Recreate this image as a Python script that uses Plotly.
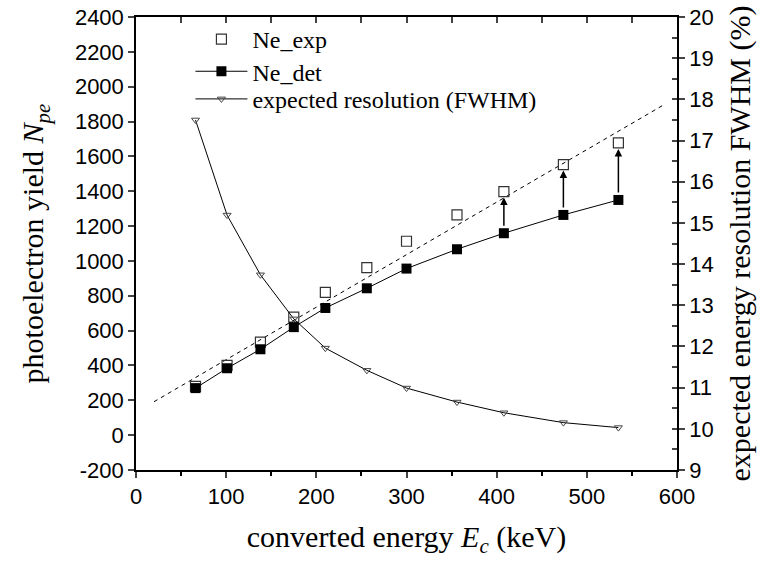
import plotly.graph_objects as go

energy = [66, 101, 138, 175, 210, 256, 300, 356, 408, 474, 535]
ne_exp = [280, 401, 534, 677, 819, 962, 1113, 1264, 1398, 1553, 1677]
ne_det = [270, 384, 493, 620, 730, 843, 956, 1067, 1159, 1264, 1350]
resolution = [17.5, 15.19, 13.74, 12.67, 11.96, 11.42, 10.99, 10.65, 10.39, 10.15, 10.03]
fit_x = [20, 585]
fit_y = [192, 1895]
arrow_idx = [8, 9, 10]
y_tickvals = list(range(-200, 2401, 200))
y_ticktext = [str(v) if v >= 0 else "-" + str(-v) for v in y_tickvals]

SERIF = "Liberation Serif, Times New Roman, serif"
SANS = "Liberation Sans, Arial, sans-serif"

fig = go.Figure()

fig.add_trace(go.Scatter(x=fit_x, y=fit_y, mode="lines", showlegend=False,
                         line=dict(color="black", width=1, dash="4px,4px")))
fig.add_trace(go.Scatter(x=energy, y=ne_exp, mode="markers", name="Ne_exp",
                         legend="legend",
                         marker=dict(symbol="square-open", size=10, color="#333",
                                     line=dict(width=1.2))))
fig.add_trace(go.Scatter(x=energy, y=ne_det, mode="lines+markers", name="Ne_det",
                         legend="legend2",
                         line=dict(color="black", width=1),
                         marker=dict(symbol="square", size=10, color="black")))
fig.add_trace(go.Scatter(x=energy, y=resolution, mode="lines+markers",
                         name="expected resolution (FWHM)", yaxis="y2",
                         legend="legend3",
                         line=dict(color="black", width=1),
                         marker=dict(symbol="triangle-down-open", size=7, color="#444",
                                     line=dict(width=1))))

for i in arrow_idx:
    fig.add_annotation(x=energy[i], y=ne_exp[i], ax=energy[i], ay=ne_det[i],
                       xref="x", yref="y", axref="x", ayref="y",
                       showarrow=True, arrowhead=2, arrowsize=1, arrowwidth=1.5,
                       arrowcolor="black", standoff=6, startstandoff=6, text="")

legend_common = dict(x=0.1006, xanchor="left", yanchor="top",
                     bgcolor="rgba(0,0,0,0)", borderwidth=0,
                     font=dict(family=SERIF, size=24), itemwidth=52)

fig.update_layout(
    width=761, height=568,
    margin=dict(l=136, r=84, t=17, b=98, autoexpand=False),
    paper_bgcolor="white", plot_bgcolor="white",
    font=dict(family=SANS, size=22, color="black"),
    showlegend=True,
    legend=dict(y=1.0, **legend_common),
    legend2=dict(y=0.929, **legend_common),
    legend3=dict(y=0.868, **legend_common),
    xaxis=dict(range=[0, 600], dtick=100, ticks="outside", ticklen=6, tickwidth=1.5,
               showline=True, linecolor="black", linewidth=1.5, showgrid=False,
               zeroline=False, automargin=False,
               minor=dict(dtick=50, ticks="outside", ticklen=4, tickwidth=1.5,
                          tickcolor="black", showgrid=False),
               title=dict(text="converted energy <i>E<sub>c</sub></i> (keV)",
                          font=dict(family=SERIF, size=30), standoff=18)),
    xaxis2=dict(range=[0, 600], overlaying="x", side="top", dtick=50,
                ticks="inside", ticklen=6, tickwidth=1.5, showticklabels=False,
                showline=True, linecolor="black", linewidth=1.5, showgrid=False,
                zeroline=False, automargin=False),
    yaxis=dict(range=[-200, 2400], tickvals=y_tickvals, ticktext=y_ticktext,
               ticks="outside", ticklen=6, tickwidth=1.5,
               showline=True, linecolor="black", linewidth=1.5, showgrid=False,
               zeroline=False, automargin=False,
               title=dict(text="photoelectron yield <i>N<sub>pe</sub></i>",
                          font=dict(family=SERIF, size=30), standoff=22)),
    yaxis2=dict(range=[9, 20], dtick=1, overlaying="y", side="right",
                ticks="outside", ticklen=6, tickwidth=1.5,
                showline=True, linecolor="black", linewidth=1.5, showgrid=False,
                zeroline=False, automargin=False,
                title=dict(text="expected energy resolution FWHM (%)",
                           font=dict(family=SERIF, size=30), standoff=16)),
    yaxis3=dict(range=[9, 20], dtick=0.5, overlaying="y", side="right",
                ticks="inside", ticklen=5, tickwidth=1.5, showticklabels=False,
                showline=False, showgrid=False, zeroline=False, automargin=False),
)

# dummy traces to activate the extra tick axes
fig.add_trace(go.Scatter(x=[None], y=[None], xaxis="x2", showlegend=False))
fig.add_trace(go.Scatter(x=[None], y=[None], yaxis="y3", showlegend=False))

fig.write_html("out.html",
               config={"displayModeBar": False},
               post_script="document.body.style.margin='0';"
                           "document.body.style.overflow='hidden';")
